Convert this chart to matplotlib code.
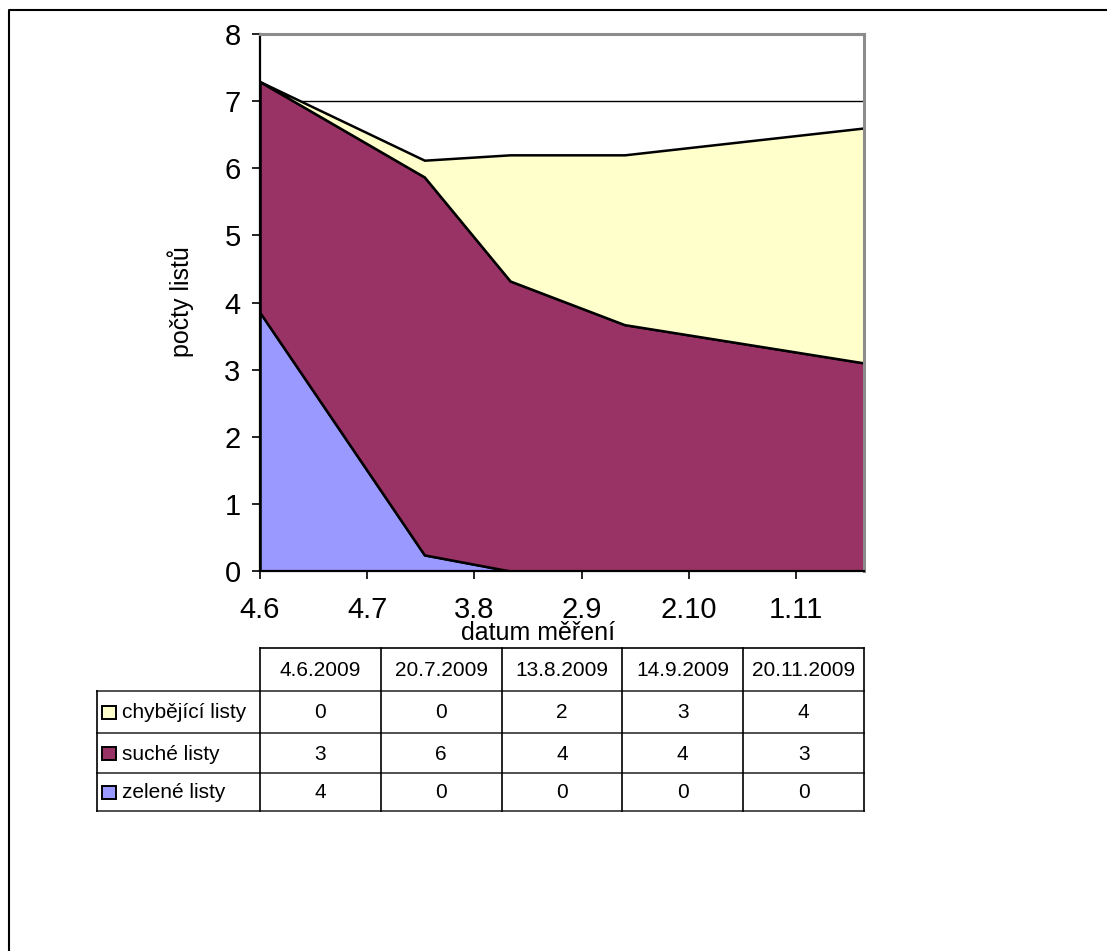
import datetime as dt
from decimal import Decimal, ROUND_HALF_UP

import matplotlib
matplotlib.use("Agg")
import matplotlib.pyplot as plt
import matplotlib.dates as mdates
from matplotlib.patches import Rectangle
from matplotlib.ticker import FixedLocator, FuncFormatter, MultipleLocator

plt.rcParams["font.family"] = ["Liberation Sans", "DejaVu Sans"]

# measurement dates and mean leaf counts per category
measure_dates = ["4.6.2009", "20.7.2009", "13.8.2009", "14.9.2009", "20.11.2009"]
series_names = ["chybějící listy", "suché listy", "zelené listy"]
missing_leaves = [0.0, 0.25, 1.88, 2.53, 3.50]
dry_leaves = [3.44, 5.63, 4.32, 3.67, 3.10]
green_leaves = [3.85, 0.24, 0.0, 0.0, 0.0]
series_colors = ["#FFFFCC", "#993366", "#9999FF"]
tick_step_days = 30
y_max = 8


def parse_date(s):
    d, m, y = (int(p) for p in s.split("."))
    return dt.date(y, m, d)


def fmt_count(v):
    return str(Decimal(str(v)).quantize(Decimal("1"), rounding=ROUND_HALF_UP))


dates = [parse_date(s) for s in measure_dates]
xnum = mdates.date2num(dates)

W, H = 1107, 951
fig = plt.figure(figsize=(W / 100, H / 100), dpi=100)


def fx(px):
    return px / W


def fy(py):
    return 1 - py / H


# ---- stacked area chart ----
ax = fig.add_axes([fx(260), fy(571), fx(864) - fx(260), fy(34) - fy(571)])
ax.stackplot(xnum, green_leaves, dry_leaves, missing_leaves,
             colors=series_colors[::-1], edgecolor="black", linewidth=1.8,
             zorder=2)
ax.set_xlim(xnum[0], xnum[-1])
ax.set_ylim(0, y_max)

n_ticks = int((xnum[-1] - xnum[0]) // tick_step_days) + 1
ax.xaxis.set_major_locator(FixedLocator([xnum[0] + k * tick_step_days for k in range(n_ticks)]))


def date_label(v, pos):
    d = mdates.num2date(v)
    return f"{d.day}.{d.month}"


ax.xaxis.set_major_formatter(FuncFormatter(date_label))
ax.yaxis.set_major_locator(MultipleLocator(1))

ax.yaxis.grid(True, color="black", linewidth=1.0)
ax.set_axisbelow(True)

for side in ("left", "bottom"):
    ax.spines[side].set_color("black")
    ax.spines[side].set_linewidth(1.6)
for side in ("top", "right"):
    ax.spines[side].set_color("#8c8c8c")
    ax.spines[side].set_linewidth(2.2)

ax.tick_params(axis="both", direction="out", length=6, width=1.2,
               colors="black", labelsize=21)
ax.tick_params(axis="x", pad=12)
ax.tick_params(axis="y", pad=8)

fig.text(fx(181), fy(302), "počty listů", rotation=90, fontsize=18,
         ha="center", va="center")
fig.text(fx(538), fy(633), "datum měření", fontsize=18,
         ha="center", va="center")

# ---- data table under the chart ----
tab = fig.add_axes([0, 0, 1, 1], zorder=-1)
tab.set_xlim(0, W)
tab.set_ylim(H, 0)
tab.axis("off")

col_left, col_right = 260, 864
legend_left = 97
row_edges = [648, 691, 733, 773, 811]
n_cols = len(measure_dates)
col_w = (col_right - col_left) / n_cols

# outer frame of the whole chart
tab.plot([9, 9, W], [H, 10, 10], color="black", linewidth=1.5)

# horizontal rules
tab.plot([col_left, col_right], [row_edges[0]] * 2, color="black", linewidth=1.2)
for yy in row_edges[1:]:
    tab.plot([legend_left, col_right], [yy, yy], color="#505050", linewidth=1.4)
# vertical rules
for c in range(n_cols + 1):
    xx = col_left + c * col_w
    tab.plot([xx, xx], [row_edges[0], row_edges[-1]], color="black", linewidth=1.2)
tab.plot([legend_left, legend_left], [row_edges[1], row_edges[-1]],
         color="black", linewidth=1.2)

header_y = (row_edges[0] + row_edges[1]) / 2
for c, label in enumerate(measure_dates):
    tab.text(col_left + (c + 0.5) * col_w, header_y + 1, label,
             fontsize=15, ha="center", va="center")

table_rows = [missing_leaves, dry_leaves, green_leaves]
for r, (name, color, values) in enumerate(zip(series_names, series_colors, table_rows)):
    yc = (row_edges[r + 1] + row_edges[r + 2]) / 2
    tab.add_patch(Rectangle((102, yc - 6.5), 14, 13, facecolor=color,
                            edgecolor="black", linewidth=1.4))
    tab.text(122, yc + 1, name, fontsize=15, ha="left", va="center")
    for c, v in enumerate(values):
        tab.text(col_left + (c + 0.5) * col_w, yc + 1, fmt_count(v),
                 fontsize=15, ha="center", va="center")

fig.savefig("out.png", dpi=100, facecolor="white")
